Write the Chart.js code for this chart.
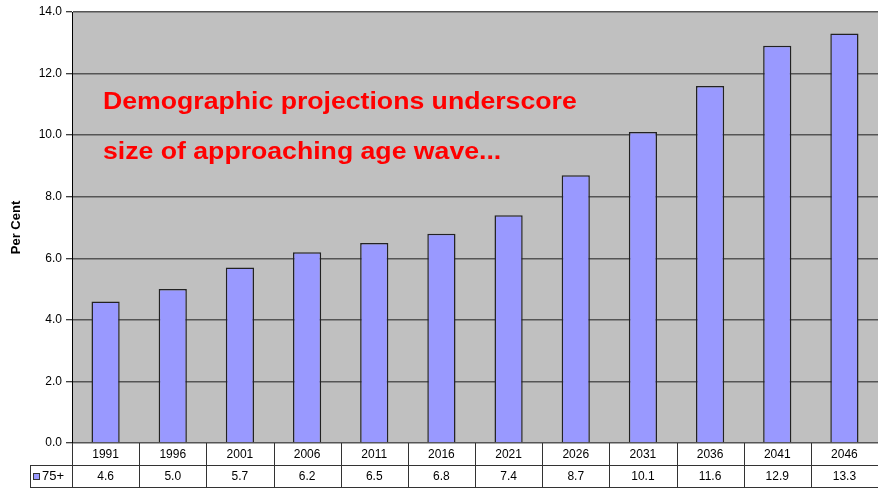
<!DOCTYPE html>
<html>
<head>
<meta charset="utf-8">
<script src="https://cdn.jsdelivr.net/npm/chart.js@4/dist/chart.umd.min.js"></script>
<style>
    html, body { margin: 0; padding: 0; background: #fff; }
    #wrap { width: 878px; height: 491px; }
</style>
</head>
<body>
<div id="wrap"><canvas id="chart"></canvas></div>
<script>
// Data
const years = ['1991', '1996', '2001', '2006', '2011', '2016', '2021', '2026', '2031', '2036', '2041', '2046'];
const share75 = [4.6, 5.0, 5.7, 6.2, 6.5, 6.8, 7.4, 8.7, 10.1, 11.6, 12.9, 13.3];
const seriesName = '75+';
const headline = ['Demographic projections underscore', 'size of approaching age wave...'];

Chart.defaults.font.family = "'Liberation Sans', Arial, sans-serif";
Chart.defaults.color = '#000';

/**
 * Gray plot background
 */
const plotBackground = {
    id: 'plotBackground',
    beforeDraw(chart) {
        const { ctx, chartArea: a } = chart;
        ctx.save();
        ctx.fillStyle = '#C0C0C0';
        ctx.fillRect(a.left, a.top, a.right - a.left, a.bottom - a.top);
        ctx.restore();
    }
};

/**
 * Data table under the plot, columns follow the x scale
 */
const dataTable = {
    id: 'dataTable',
    afterDraw(chart) {
        const { ctx, chartArea: a, scales } = chart;
        const x = scales.x;
        const top = a.bottom;
        const mid = top + 22;
        const bot = top + 44;
        const step = (a.right - a.left) / years.length;
        const labelLeft = 30;

        ctx.save();
        ctx.strokeStyle = '#333';
        ctx.lineWidth = 1;

        ctx.beginPath();
        ctx.moveTo(labelLeft, mid + 0.5); ctx.lineTo(a.right, mid + 0.5);
        ctx.moveTo(labelLeft, bot + 0.5); ctx.lineTo(a.right, bot + 0.5);
        ctx.moveTo(labelLeft + 0.5, mid); ctx.lineTo(labelLeft + 0.5, bot);
        for (let i = 0; i <= years.length; i++) {
            const px = Math.round(a.left + i * step) + 0.5;
            ctx.moveTo(px, top); ctx.lineTo(px, bot);
        }
        ctx.stroke();

        ctx.fillStyle = '#000';
        ctx.font = "12px 'Liberation Sans', Arial, sans-serif";
        ctx.textAlign = 'center';
        ctx.textBaseline = 'middle';
        years.forEach((yr, i) => {
            const cx = x.getPixelForValue(i);
            ctx.fillText(yr, cx, top + 11.5);
            ctx.fillText(share75[i].toFixed(1), cx, mid + 11.5);
        });

        // legend key
        ctx.fillStyle = '#9999FF';
        ctx.fillRect(33, mid + 8, 7, 7);
        ctx.strokeStyle = '#333';
        ctx.strokeRect(33.5, mid + 8.5, 6, 6);
        ctx.fillStyle = '#000';
        ctx.textAlign = 'left';
        ctx.font = "13px 'Liberation Sans', Arial, sans-serif";
        ctx.fillText(seriesName, 42, mid + 11.5);
        ctx.restore();
    }
};

/**
 * Red headline on the plot
 */
const headlineText = {
    id: 'headlineText',
    afterDatasetsDraw(chart) {
        const { ctx } = chart;
        ctx.save();
        ctx.fillStyle = '#FF0000';
        ctx.font = "bold 24px 'Liberation Sans', Arial, sans-serif";
        ctx.textAlign = 'left';
        ctx.textBaseline = 'alphabetic';
        ctx.translate(103, 0);
        ctx.scale(1.11, 1);
        ctx.fillText(headline[0], 0, 109);
        ctx.fillText(headline[1], 0, 159);
        ctx.restore();
    }
};

const ctx = document.getElementById('chart').getContext('2d');
new Chart(ctx, {
    type: 'bar',
    data: {
        labels: years,
        datasets: [{
            label: seriesName,
            data: share75,
            backgroundColor: '#9999FF',
            borderColor: '#222',
            borderWidth: 1.5,
            barPercentage: 0.42,
            categoryPercentage: 1
        }]
    },
    options: {
        responsive: true,
        maintainAspectRatio: false,
        animation: false,
        layout: { padding: { top: 12, bottom: 48, left: 0, right: 0 } },
        scales: {
            x: { display: false },
            y: {
                min: 0,
                max: 14,
                afterFit: s => { s.width = 72; },
                ticks: {
                    stepSize: 2,
                    padding: 4,
                    font: { size: 12 },
                    callback: v => v.toFixed(1)
                },
                grid: {
                    color: '#555',
                    lineWidth: 1.5,
                    tickLength: 6,
                    tickColor: '#000',
                    tickWidth: 1
                },
                border: { color: '#000', width: 1 },
                title: {
                    display: true,
                    text: 'Per Cent',
                    font: { size: 13, weight: 'bold' },
                    padding: { top: 9, bottom: 0 }
                }
            }
        },
        plugins: {
            legend: { display: false },
            tooltip: { enabled: false }
        }
    },
    plugins: [plotBackground, dataTable, headlineText]
});
</script>
</body>
</html>
